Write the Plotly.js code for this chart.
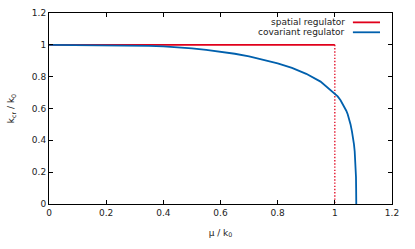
<!DOCTYPE html>
<html><head><meta charset="utf-8">
<script src="https://cdn.plot.ly/plotly-3.0.1.min.js"></script>
<style>html,body{margin:0;padding:0;background:#fff}</style>
</head><body>
<div id="chart" style="width:415px;height:249px"></div>
<script>
// spatial regulator
var spatialMu = [0, 1];
var spatialK = [1, 1];
var spatialDropMu = [1, 1];
var spatialDropK = [1, 0];
// covariant regulator
var covMu = [0, 0.1, 0.2, 0.25, 0.3, 0.35, 0.4, 0.45, 0.5, 0.55, 0.6, 0.65, 0.7, 0.75, 0.8, 0.85, 0.9, 0.95, 1.0, 1.01, 1.02, 1.03, 1.04, 1.045, 1.05, 1.055, 1.06, 1.064, 1.067, 1.0695, 1.0715, 1.073, 1.074, 1.0745, 1.0748, 1.075];
var covK  = [1, 0.9995, 0.999, 0.998, 0.996, 0.994, 0.990, 0.985, 0.978, 0.969, 0.958, 0.944, 0.928, 0.908, 0.884, 0.855, 0.818, 0.769, 0.695, 0.676, 0.652, 0.622, 0.586, 0.564, 0.538, 0.50, 0.455, 0.415, 0.375, 0.33, 0.28, 0.23, 0.17, 0.1, 0.05, 0];
var xTicks = [0, 0.2, 0.4, 0.6, 0.8, 1, 1.2];
var yTicks = [0, 0.2, 0.4, 0.6, 0.8, 1, 1.2];
var legendNames = ['spatial regulator', 'covariant regulator'];

var red = '#e0001b', blue = '#0060ad';
var fnt = {family: 'DejaVu Sans', size: 9, color: '#222'};

var traces = [
  {x: spatialMu, y: spatialK, mode: 'lines', line: {color: red, width: 1.8}, showlegend: false},
  {x: spatialDropMu, y: spatialDropK, mode: 'lines', line: {color: red, width: 1.3, dash: '1.4px,1.8px'}, showlegend: false},
  {x: covMu, y: covK, mode: 'lines', line: {color: blue, width: 1.8}, showlegend: false}
];

var axisCommon = {
  showline: true, mirror: 'ticks', linecolor: '#000', linewidth: 1,
  ticks: 'inside', ticklen: 4, tickcolor: '#000', tickwidth: 1,
  showgrid: false, zeroline: false, tickfont: fnt
};

var layout = {
  width: 415, height: 249,
  margin: {l: 49, r: 23, t: 13, b: 45},
  paper_bgcolor: '#fff', plot_bgcolor: '#fff',
  font: fnt,
  xaxis: Object.assign({}, axisCommon, {range: [0, 1.2], tickvals: xTicks, ticktext: xTicks.map(String),
    title: {text: 'μ / k<sub>0</sub>', font: fnt, standoff: 12}}),
  yaxis: Object.assign({}, axisCommon, {range: [0, 1.2], tickvals: yTicks, ticktext: yTicks.map(String),
    title: {text: 'k<sub>cr</sub> / k<sub>0</sub>', font: fnt, standoff: 15}}),
  annotations: [
    {xref: 'paper', yref: 'paper', x: 0.868, y: 0.951, xanchor: 'right', yanchor: 'middle', text: legendNames[0], showarrow: false, font: fnt},
    {xref: 'paper', yref: 'paper', x: 0.868, y: 0.899, xanchor: 'right', yanchor: 'middle', text: legendNames[1], showarrow: false, font: fnt}
  ],
  shapes: [
    {type: 'line', xref: 'paper', yref: 'paper', x0: 0.886, x1: 0.965, y0: 0.951, y1: 0.951, line: {color: red, width: 1.8}},
    {type: 'line', xref: 'paper', yref: 'paper', x0: 0.886, x1: 0.965, y0: 0.899, y1: 0.899, line: {color: blue, width: 1.8}}
  ]
};

Plotly.newPlot('chart', traces, layout, {staticPlot: true, displayModeBar: false});
</script>
</body></html>
